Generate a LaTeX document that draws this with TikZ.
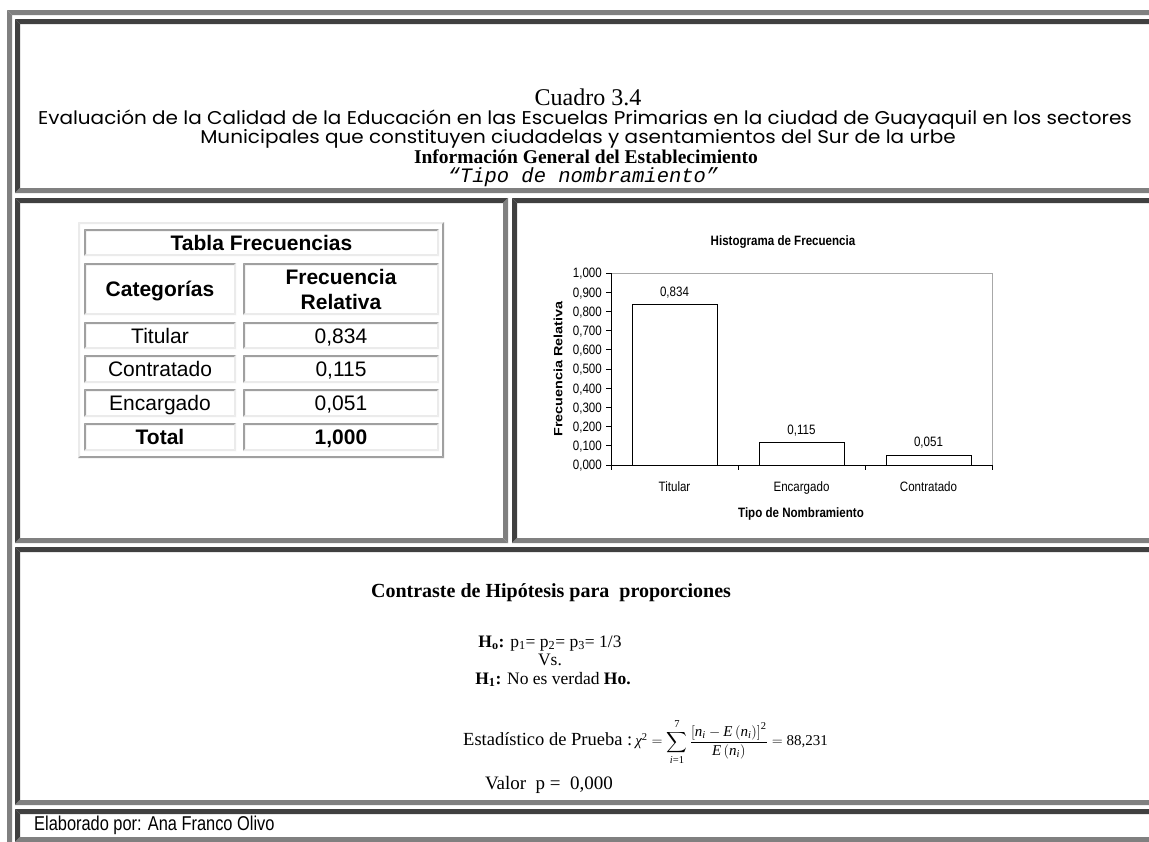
\documentclass[tikz,border=0pt]{standalone}
\usepackage{amsmath}
\usepackage{fontspec}
\setmainfont{Liberation Serif}
\newfontfamily\arialf{Liberation Sans}
\newfontfamily\chartf[FakeStretch=0.85]{Liberation Sans}
\newfontfamily\chartrf[FakeStretch=1.2]{Liberation Sans}
\newfontfamily\footf[FakeStretch=0.82]{Liberation Sans}
\newfontfamily\roundf[FakeStretch=1.08]{Poppins}
\newfontfamily\monof{Liberation Mono}
\newcommand{\fsz}[2]{\fontsize{#1}{#2}\selectfont}
\newcommand{\iv}[1]{\text{\itshape #1}}
\definecolor{framegray}{HTML}{808080}
\definecolor{framedark}{HTML}{404040}
\definecolor{celllight}{HTML}{EBEBEB}
\definecolor{cellgray}{HTML}{A0A0A0}
\definecolor{plotgray}{HTML}{A8A8A8}
% inset frame: top/left dark, bottom/right gray, 5px wide
\newcommand{\insetbox}[4]{%
  \fill[framedark] (#1,#2) -- (#3,#2) -- (#3-5,#2+5) -- (#1+5,#2+5) -- cycle;
  \fill[framedark] (#1,#2) -- (#1+5,#2+5) -- (#1+5,#4-5) -- (#1,#4) -- cycle;
  \fill[framegray] (#1,#4) -- (#1+5,#4-5) -- (#3-5,#4-5) -- (#3,#4) -- cycle;
  \fill[framegray] (#3,#2) -- (#3,#4) -- (#3-5,#4-5) -- (#3-5,#2+5) -- cycle;}
% table cell: 2px, top/left gray, bottom/right light
\newcommand{\tcellbox}[4]{%
  \fill[cellgray] (#1,#2) -- (#3,#2) -- (#3-2,#2+2) -- (#1+2,#2+2) -- cycle;
  \fill[cellgray] (#1,#2) -- (#1+2,#2+2) -- (#1+2,#4-2) -- (#1,#4) -- cycle;
  \fill[celllight] (#1,#4) -- (#1+2,#4-2) -- (#3-2,#4-2) -- (#3,#4) -- cycle;
  \fill[celllight] (#3,#2) -- (#3,#4) -- (#3-2,#4-2) -- (#3-2,#2+2) -- cycle;}
\newcommand{\toutbox}[4]{%
  \fill[celllight] (#1,#2) -- (#3,#2) -- (#3-2,#2+2) -- (#1+2,#2+2) -- cycle;
  \fill[celllight] (#1,#2) -- (#1+2,#2+2) -- (#1+2,#4-2) -- (#1,#4) -- cycle;
  \fill[cellgray] (#1,#4) -- (#1+2,#4-2) -- (#3-2,#4-2) -- (#3,#4) -- cycle;
  \fill[cellgray] (#3,#2) -- (#3,#4) -- (#3-2,#4-2) -- (#3-2,#2+2) -- cycle;}
\tikzset{
  tabtxt/.style={inner sep=0pt, anchor=base, font=\arialf\fsz{21}{23}},
  tabbold/.style={tabtxt, font=\arialf\bfseries\fsz{21}{23}},
  charttxt/.style={inner sep=0pt, anchor=base, font=\chartf\fsz{13.6}{16}},
  chartbold/.style={charttxt, font=\chartf\bfseries\fsz{13.6}{16}},
  hyptxt/.style={inner sep=0pt, anchor=base, font=\fsz{17.5}{20}},
  headtxt/.style={inner sep=0pt, anchor=base},
  bar/.style={draw=black, fill=white, line width=0.9pt}
}
\begin{document}
\begin{tikzpicture}[x=1pt,y=-1pt]
\useasboundingbox (0,0) rectangle (1149,841);
\fill[white] (0,0) rectangle (1149,841);
% outer table frame (outset, only top/left visible)
\fill[framegray] (7,10) -- (1170,10) -- (1165,15) -- (12,15) -- cycle;
\fill[framegray] (7,10) -- (12,15) -- (12,860) -- (7,860) -- cycle;
% cells
\insetbox{15}{19}{1170}{193}
\insetbox{15}{198}{508}{543}
\insetbox{512}{198}{1170}{543}
\insetbox{15}{547}{1170}{805}
\insetbox{15}{809}{1170}{842}

% ---------- header ----------
\node[headtxt] (cuadro) at (588,105) {\fsz{24}{28}Cuadro 3.4};
\node[headtxt] (eval1) at (585,124) {\roundf\fsz{18.5}{20}Evaluación de la Calidad de la Educación en las Escuelas Primarias en la ciudad de Guayaquil en los sectores};
\node[headtxt] (eval2) at (578,143) {\roundf\fsz{18.5}{20}Municipales que constituyen ciudadelas y asentamientos del Sur de la urbe};
\node[headtxt] (info) at (586,163) {\bfseries\fsz{19.5}{22}Información General del Establecimiento};
\node[headtxt] (tipo) at (583,182) {\monof\itshape\fsz{20.5}{22}“Tipo de nombramiento”};

% ---------- frequency table ----------
\toutbox{78}{222}{444}{458}
\tcellbox{84}{229}{439}{256}
\tcellbox{84}{263}{236}{315}
\tcellbox{243}{263}{439}{315}
\tcellbox{84}{322}{236}{349}
\tcellbox{243}{322}{439}{349}
\tcellbox{84}{355}{236}{383}
\tcellbox{243}{355}{439}{383}
\tcellbox{84}{389}{236}{417}
\tcellbox{243}{389}{439}{417}
\tcellbox{84}{423}{236}{451}
\tcellbox{243}{423}{439}{451}
\node[tabbold] (ttitle) at (261.5,250) {Tabla Frecuencias};
\node[tabbold] (tcat) at (160,296.5) {Categorías};
\node[tabbold] (tfrel) at (341,284.5) {Frecuencia};
\node[tabbold] (tfrel2) at (341,309) {Relativa};
\node[tabtxt] (ttit) at (160,343) {Titular};
\node[tabtxt] (vtit) at (341,343) {0,834};
\node[tabtxt] (tcon) at (160,376.5) {Contratado};
\node[tabtxt] (vcon) at (341,376.5) {0,115};
\node[tabtxt] (tenc) at (160,410.5) {Encargado};
\node[tabtxt] (venc) at (341,410.5) {0,051};
\node[tabbold] (ttot) at (160,444.5) {Total};
\node[tabbold] (vtot) at (341,444.5) {1,000};

% ---------- chart ----------
\node[chartbold] (ctitle) at (783,245) {Histograma de Frecuencia};
\draw[plotgray, line width=0.8pt] (611,273) -- (992,273) -- (992,465);
\draw[bar] (632,465) rectangle (717,304.9);
\draw[bar] (759,465) rectangle (844,442.9);
\draw[bar] (886,465) rectangle (971,455.2);
\draw[black, line width=0.9pt] (611,273) -- (611,465) -- (992,465);
\foreach \i/\lab in {0/{0,000},1/{0,100},2/{0,200},3/{0,300},4/{0,400},5/{0,500},6/{0,600},7/{0,700},8/{0,800},9/{0,900},10/{1,000}}{
  \draw[black, line width=0.8pt] (606,465-19.2*\i) -- (611,465-19.2*\i);
  \node[charttxt, anchor=base east] (ylab\i) at (602,469.9-19.2*\i) {\lab};
}
\foreach \x in {611,738,865,992}{
  \draw[black, line width=0.8pt] (\x,465) -- (\x,470);
}
\node[charttxt] (v1) at (674.5,296) {0,834};
\node[charttxt] (v2) at (801.5,434) {0,115};
\node[charttxt] (v3) at (928.5,446) {0,051};
\node[charttxt] (x1) at (674.5,491) {Titular};
\node[charttxt] (x2) at (801.5,491) {Encargado};
\node[charttxt] (x3) at (928.5,491) {Contratado};
\node[chartbold] (xtitle) at (801,517) {Tipo de Nombramiento};
\node[inner sep=0pt, rotate=90, font=\chartrf\bfseries\fsz{12}{14}] (ytitle) at (558,369) {Frecuencia Relativa};

% ---------- hypothesis ----------
\node[hyptxt, font=\bfseries\fsz{20}{24}] (contraste) at (551,597) {Contraste de Hipótesis para\ \ proporciones};
\node[hyptxt] (h0) at (550,647) {\textbf{H\textsubscript{o}:} p\textsubscript{1}= p\textsubscript{2}= p\textsubscript{3}= 1/3};
\node[hyptxt] (vs) at (550,665) {Vs.};
\node[hyptxt] (h1) at (553,684) {\textbf{H\textsubscript{1}:} No es verdad \textbf{Ho.}};
\node[inner sep=0pt, anchor=west, font=\fsz{18.5}{22}] (est) at (463,742) {Estadístico de Prueba :\,{\fsz{15}{18}$\iv{χ}^{\text{2}}=\displaystyle\sum_{\iv{i}\text{=1}}^{\text{7}}\frac{\left[\iv{n}_{\iv{i}}-\iv{E}\left(\iv{n}_{\iv{i}}\right)\right]^{\text{2}}}{\iv{E}\left(\iv{n}_{\iv{i}}\right)}=\text{88,231}$}};
\node[hyptxt, font=\fsz{19}{22}] (valor) at (549,789) {Valor\ \ p =\ \ 0,000};

% ---------- footer ----------
\node[inner sep=0pt, anchor=west, font=\footf\fsz{20}{24}] (foot) at (34,825) {Elaborado por: Ana Franco Olivo};
\end{tikzpicture}
\end{document}
